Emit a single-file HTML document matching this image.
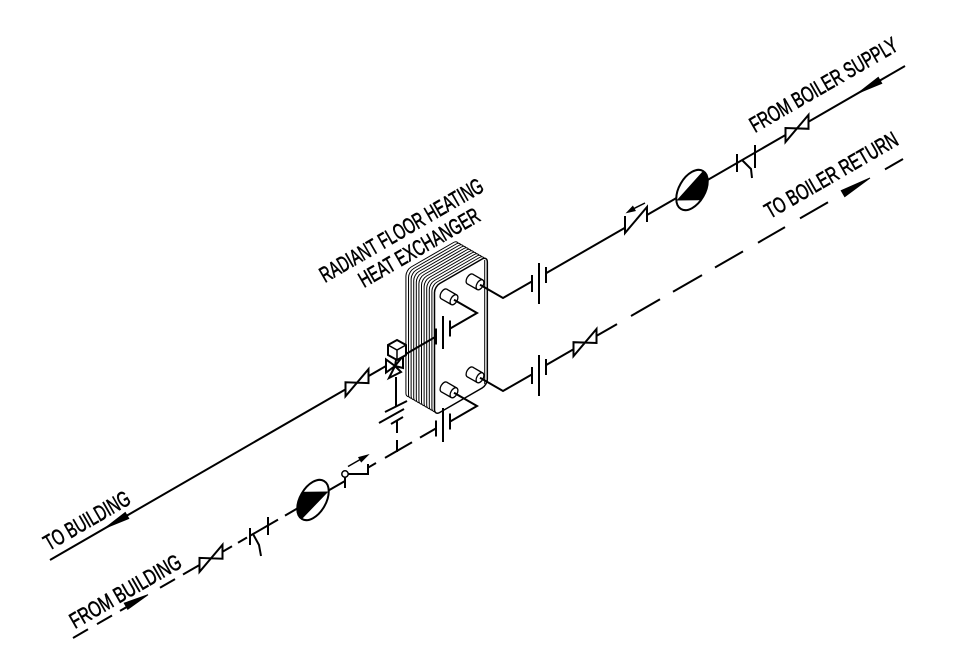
<!DOCTYPE html>
<html><head><meta charset="utf-8"><style>
html,body{margin:0;padding:0;background:#fff;}
svg{display:block;}
text{font-family:"Liberation Sans",sans-serif;font-size:22px;fill:#000;stroke:#000;stroke-width:0.6px;}
</style></head><body>
<svg width="956" height="648" viewBox="0 0 956 648" xmlns="http://www.w3.org/2000/svg">
<defs>
<clipPath id="pu"><ellipse cx="692" cy="190" rx="13" ry="22" transform="rotate(30 692 190)"/></clipPath>
<clipPath id="pl"><ellipse cx="313" cy="500" rx="13" ry="22" transform="rotate(30 313 500)"/></clipPath>
</defs>
<rect width="956" height="648" fill="#fff"/>

<!-- Heat exchanger plates (back to front) -->
<g fill="#fff" stroke="#000" stroke-width="1">
<rect x="0" y="0" width="61" height="129" rx="6" transform="matrix(0.866 -0.5 0 1 405.92 270)" vector-effect="non-scaling-stroke"/>
<rect x="0" y="0" width="61" height="129" rx="6" transform="matrix(0.866 -0.5 0 1 408.52 271.5)" vector-effect="non-scaling-stroke"/>
<rect x="0" y="0" width="61" height="129" rx="6" transform="matrix(0.866 -0.5 0 1 411.12 273)" vector-effect="non-scaling-stroke"/>
<rect x="0" y="0" width="61" height="129" rx="6" transform="matrix(0.866 -0.5 0 1 413.72 274.5)" vector-effect="non-scaling-stroke"/>
<rect x="0" y="0" width="61" height="129" rx="6" transform="matrix(0.866 -0.5 0 1 416.31 276)" vector-effect="non-scaling-stroke"/>
<rect x="0" y="0" width="61" height="129" rx="6" transform="matrix(0.866 -0.5 0 1 418.91 277.5)" vector-effect="non-scaling-stroke"/>
<rect x="0" y="0" width="61" height="129" rx="6" transform="matrix(0.866 -0.5 0 1 421.51 279)" vector-effect="non-scaling-stroke"/>
<rect x="0" y="0" width="61" height="129" rx="6" transform="matrix(0.866 -0.5 0 1 424.11 280.5)" vector-effect="non-scaling-stroke"/>
<rect x="0" y="0" width="61" height="129" rx="6" transform="matrix(0.866 -0.5 0 1 426.71 282)" vector-effect="non-scaling-stroke"/>
<rect x="0" y="0" width="61" height="129" rx="6" transform="matrix(0.866 -0.5 0 1 429.30 283.5)" vector-effect="non-scaling-stroke"/>
<rect x="0" y="0" width="61" height="129" rx="6" transform="matrix(0.866 -0.5 0 1 431.90 285)" vector-effect="non-scaling-stroke"/>
<rect x="0" y="0" width="61" height="129" rx="6" transform="matrix(0.866 -0.5 0 1 434.5 286.5)" vector-effect="non-scaling-stroke" stroke-width="1.5"/>
</g>
<line x1="484.7" y1="260" x2="484.7" y2="384" stroke="#000" stroke-width="1"/>

<!-- Nozzles -->
<g stroke="#000" stroke-width="1.3">
<g transform="translate(470,279)">
 <ellipse cx="0" cy="0" rx="3.2" ry="5.5" transform="rotate(30)" fill="#fff"/>
 <polygon points="2.75,-4.76 12.75,1 7.25,10.5 -2.75,4.76" fill="#fff" stroke="none"/>
 <line x1="2.75" y1="-4.76" x2="12.75" y2="1"/><line x1="-2.75" y1="4.76" x2="7.25" y2="10.5"/>
 <ellipse cx="10" cy="5.75" rx="3.2" ry="5.5" transform="rotate(30 10 5.75)" fill="#fff"/>
</g>
<g transform="translate(444,294)">
 <ellipse cx="0" cy="0" rx="3.2" ry="5.5" transform="rotate(30)" fill="#fff"/>
 <polygon points="2.75,-4.76 12.75,1 7.25,10.5 -2.75,4.76" fill="#fff" stroke="none"/>
 <line x1="2.75" y1="-4.76" x2="12.75" y2="1"/><line x1="-2.75" y1="4.76" x2="7.25" y2="10.5"/>
 <ellipse cx="10" cy="5.75" rx="3.2" ry="5.5" transform="rotate(30 10 5.75)" fill="#fff"/>
</g>
<g transform="translate(470,372)">
 <ellipse cx="0" cy="0" rx="3.2" ry="5.5" transform="rotate(30)" fill="#fff"/>
 <polygon points="2.75,-4.76 12.75,1 7.25,10.5 -2.75,4.76" fill="#fff" stroke="none"/>
 <line x1="2.75" y1="-4.76" x2="12.75" y2="1"/><line x1="-2.75" y1="4.76" x2="7.25" y2="10.5"/>
 <ellipse cx="10" cy="5.75" rx="3.2" ry="5.5" transform="rotate(30 10 5.75)" fill="#fff"/>
</g>
<g transform="translate(444,387)">
 <ellipse cx="0" cy="0" rx="3.2" ry="5.5" transform="rotate(30)" fill="#fff"/>
 <polygon points="2.75,-4.76 12.75,1 7.25,10.5 -2.75,4.76" fill="#fff" stroke="none"/>
 <line x1="2.75" y1="-4.76" x2="12.75" y2="1"/><line x1="-2.75" y1="4.76" x2="7.25" y2="10.5"/>
 <ellipse cx="10" cy="5.75" rx="3.2" ry="5.5" transform="rotate(30 10 5.75)" fill="#fff"/>
</g>
</g>

<g stroke="#000" stroke-width="2" fill="none" stroke-linecap="butt">
<!-- nozzle pipes -->
<polyline points="480,284.75 503,298 532,281.4"/>
<polyline points="480,377.75 503,391 532,374.4"/>
<polyline points="454,299.75 477,313 450,328.6"/>
<polyline points="454,392.75 477,406 450,421.6"/>

<!-- unions -->
<line x1="532" y1="275" x2="532" y2="292"/><line x1="539" y1="263" x2="539" y2="304"/><line x1="546" y1="267" x2="546" y2="283"/>
<line x1="532" y1="367" x2="532" y2="384"/><line x1="539" y1="355" x2="539" y2="396"/><line x1="546" y1="359" x2="546" y2="375"/>
<line x1="450" y1="320.5" x2="450" y2="336.5"/><line x1="443" y1="316" x2="443" y2="349"/><line x1="436" y1="328.5" x2="436" y2="344.5"/>
<line x1="450" y1="413.5" x2="450" y2="429.5"/><line x1="443" y1="408" x2="443" y2="442"/><line x1="436" y1="420.5" x2="436" y2="436.5"/>

<!-- supply line -->
<line x1="546" y1="273.3" x2="625" y2="227.7"/>
<line x1="647" y1="215" x2="905" y2="66"/>

<!-- return line -->
<line x1="546" y1="365.1" x2="573.5" y2="349.2"/>
<line x1="596.5" y1="335.9" x2="617" y2="324.1"/>
<line x1="631" y1="316" x2="660" y2="299.2"/>
<line x1="673" y1="291.8" x2="702" y2="275.1"/>
<line x1="715" y1="267.5" x2="743" y2="251.4"/>
<line x1="758" y1="242.7" x2="785" y2="227.1"/>
<line x1="800" y1="218.4" x2="828" y2="202.3"/>
<line x1="885" y1="169.4" x2="903" y2="159"/>

<!-- to building line -->
<line x1="50" y1="560" x2="386" y2="366"/>

<!-- from building line -->
<line x1="73" y1="638" x2="88" y2="629.3"/>
<line x1="97" y1="624.1" x2="112" y2="615.5"/>
<line x1="120" y1="610.9" x2="128" y2="606.3"/>
<line x1="160" y1="587.8" x2="175" y2="579.1"/>
<line x1="183" y1="574.5" x2="199.5" y2="565"/>
<line x1="222.5" y1="551.7" x2="232" y2="546.2"/>
<line x1="238" y1="542.7" x2="247" y2="537.5"/>
<line x1="250" y1="535.8" x2="278" y2="519.6"/>
<line x1="285" y1="515.6" x2="300" y2="506.9"/>
<line x1="325" y1="492.5" x2="345" y2="481"/>
<line x1="368" y1="467.7" x2="376" y2="463"/>
<line x1="385" y1="457.9" x2="412" y2="442.3"/>
<line x1="420" y1="437.6" x2="436" y2="428.4"/>

<!-- HX to 3-way valve -->
<line x1="436" y1="336.5" x2="406" y2="354"/>

<!-- vertical bypass -->
<line x1="396" y1="377" x2="396" y2="406"/>
<line x1="385" y1="412" x2="407" y2="401"/>
<line x1="379" y1="423" x2="404" y2="409"/>
<line x1="391" y1="424" x2="403" y2="417"/>
<line x1="397" y1="420" x2="397" y2="433"/>
<line x1="397" y1="440" x2="397" y2="452"/>

<!-- gate valves -->
<path d="M785.5,128 L785.5,142 L808.5,114.8 L808.5,128.8 Z" fill="#fff"/>
<path d="M573.5,342.2 L573.5,356.2 L596.5,329 L596.5,343 Z" fill="#fff"/>
<path d="M345.5,382.3 L345.5,396.3 L368.5,369.1 L368.5,383.1 Z" fill="#fff"/>
<path d="M199.5,557.9 L199.5,571.9 L222.5,544.7 L222.5,558.7 Z" fill="#fff"/>

<!-- strainers -->
<line x1="737" y1="154" x2="737" y2="172"/>
<line x1="755" y1="145" x2="755" y2="168"/>
<polyline points="742,160 751,169 752,178"/>
<line x1="250" y1="528" x2="250" y2="545"/>
<line x1="268" y1="517" x2="268" y2="535"/>
<polyline points="253,534 259,545 261,556"/>

<!-- check valve supply -->
<polyline points="625,216 625,233 647,207 647,222"/>
<line x1="645" y1="203" x2="634" y2="208.5" stroke-width="1.5"/>
<!-- check valve from building -->
<line x1="345" y1="477.2" x2="345" y2="488"/>
<line x1="348" y1="474" x2="368" y2="474"/>
<line x1="368" y1="464" x2="368" y2="475"/>
<line x1="348" y1="466.5" x2="360" y2="459.6" stroke-width="1.5"/>
<circle cx="345" cy="474" r="3.2" fill="#fff" stroke-width="1.5"/>

<!-- 3-way valve -->
<polygon points="386,359.5 386,372.5 395,366" fill="#fff"/>
<polygon points="403,356 403,368 395,366" fill="#fff"/>
<polygon points="389,378 401,372 395,366" fill="#fff"/>
<line x1="396" y1="360" x2="395" y2="366"/>
<path d="M397,340 L406,345 L406,355 L397,360 L388,355 L388,345 Z" fill="#fff"/>
<path d="M388,345 L397,350 L406,345 M397,350 L397,360" stroke-width="1.5"/>
</g>

<!-- pumps -->
<ellipse cx="692" cy="190" rx="13" ry="22" transform="rotate(30 692 190)" fill="#fff"/>
<polygon points="703,171 676.5,200.5 720,200 720,160" fill="#000" clip-path="url(#pu)"/>
<ellipse cx="692" cy="190" rx="13" ry="22" transform="rotate(30 692 190)" fill="none" stroke="#000" stroke-width="2"/>
<ellipse cx="313" cy="500" rx="13" ry="22" transform="rotate(30 313 500)" fill="#fff"/>
<polygon points="302,519 328.5,491.5 290,492 290,530" fill="#000" clip-path="url(#pl)"/>
<ellipse cx="313" cy="500" rx="13" ry="22" transform="rotate(30 313 500)" fill="none" stroke="#000" stroke-width="2"/>

<!-- arrowheads -->
<g fill="#000" stroke="#000" stroke-width="1">
<polygon points="105,528.2 128.75,518.5 125.25,512.5"/>
<polygon points="858,93.1 881.75,83.4 878.25,77.4"/>
<polygon points="870,178 844.75,196.6 841.25,190.6"/>
<polygon points="148,594.7 127.75,609.3 124.25,603.2"/>
<polygon points="627,212.5 635.2,210.7 632.8,206.3"/>
<polygon points="368,455 361.25,461.8 358.75,457.4"/>
</g>

<!-- labels -->
<text transform="translate(49,551) rotate(-30)" textLength="96" lengthAdjust="spacingAndGlyphs">TO BUILDING</text>
<text transform="translate(75,629) rotate(-30)" textLength="125" lengthAdjust="spacingAndGlyphs">FROM BUILDING</text>
<text transform="translate(755,133) rotate(-30)" textLength="167" lengthAdjust="spacingAndGlyphs">FROM BOILER SUPPLY</text>
<text transform="translate(770,219) rotate(-30)" textLength="150" lengthAdjust="spacingAndGlyphs">TO BOILER RETURN</text>
<text transform="translate(325,283) rotate(-30)" textLength="185" lengthAdjust="spacingAndGlyphs">RADIANT FLOOR HEATING</text>
<text transform="translate(364,288) rotate(-30)" textLength="136" lengthAdjust="spacingAndGlyphs">HEAT EXCHANGER</text>
</svg>
</body></html>
